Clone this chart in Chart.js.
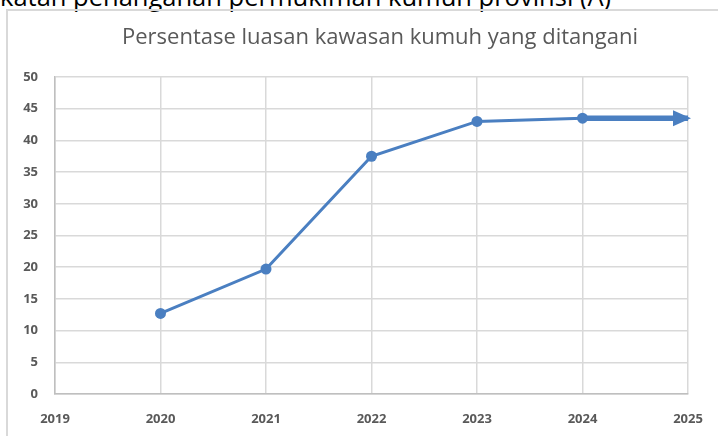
<!DOCTYPE html>
<html>
<head>
<meta charset="utf-8">
<script src="https://cdn.jsdelivr.net/npm/chart.js@4.4.1/dist/chart.umd.min.js"></script>
<style>
  html, body { margin: 0; padding: 0; background: #fff; overflow: hidden; width: 718px; height: 436px; }
  .heading {
    position: absolute; left: 0; top: -16px; white-space: nowrap;
    font-family: "Open Sans", sans-serif; font-size: 25.5px; line-height: 25px; color: #000;
  }
  .frame {
    position: absolute; left: 6px; top: 9px; width: 760px; height: 440px;
    border-left: 2px solid #d9d9d9; border-top: 2px solid #d9d9d9;
  }
  .wrap { position: absolute; left: 8px; top: 11px; width: 744px; height: 425px; }
</style>
</head>
<body>
<div class="heading">katan penanganan permukiman kumuh provinsi (A)</div>
<div class="frame"></div>
<div class="wrap"><canvas id="c"></canvas></div>
<script>
const title = 'Persentase luasan kawasan kumuh yang ditangani';
const years = [2020, 2021, 2022, 2023, 2024];
const values = [12.7, 19.7, 37.5, 43.0, 43.5];
const arrowYears = [2024, 2025];
const arrowValues = [43.5, 43.5];
const yTicks = [0, 5, 10, 15, 20, 25, 30, 35, 40, 45, 50];
const xTicks = [2019, 2020, 2021, 2022, 2023, 2024, 2025];

const blue = '#4a7fc1';
const tickFont = { family: 'Open Sans', size: 13, weight: '700' };

// arrow head at the end of the 2024 -> 2025 arrow, and the centred title
const extras = {
  id: 'extras',
  afterDatasetsDraw(chart) {
    const pts = chart.getDatasetMeta(1).data;
    const end = pts[pts.length - 1];
    const ctx = chart.ctx;
    ctx.save();
    ctx.fillStyle = blue;
    ctx.beginPath();
    ctx.moveTo(end.x + 3, end.y);
    ctx.lineTo(end.x - 15, end.y - 8);
    ctx.lineTo(end.x - 15, end.y + 8);
    ctx.closePath();
    ctx.fill();

    ctx.fillStyle = '#595959';
    ctx.font = '22px "Open Sans"';
    ctx.textAlign = 'center';
    ctx.textBaseline = 'alphabetic';
    ctx.fillText(title, chart.width / 2, 33);
    ctx.restore();
  }
};

new Chart(document.getElementById('c'), {
  type: 'line',
  data: {
    datasets: [
      {
        data: years.map((y, i) => ({ x: y, y: values[i] })),
        borderColor: blue, backgroundColor: blue,
        borderWidth: 3, pointRadius: 5.5, pointHoverRadius: 5.5,
        pointBackgroundColor: blue, pointBorderWidth: 0, tension: 0
      },
      {
        data: arrowYears.map((y, i) => ({ x: y, y: arrowValues[i] })),
        borderColor: blue, borderWidth: 5.5, pointRadius: 0,
        borderCapStyle: 'butt'
      }
    ]
  },
  options: {
    responsive: true,
    maintainAspectRatio: false,
    animation: false,
    layout: { padding: { left: 0, right: 64, top: 66, bottom: 0 } },
    plugins: {
      legend: { display: false },
      tooltip: { enabled: false },
      title: { display: false }
    },
    scales: {
      x: {
        type: 'linear', min: 2019, max: 2025,
        afterBuildTicks: s => { s.ticks = xTicks.map(v => ({ value: v })); },
        afterFit: s => { s.height = 42; },
        ticks: {
          color: '#595959', padding: 17, maxRotation: 0,
          font: tickFont,
          callback: v => String(v)
        },
        grid: { color: '#d9d9d9', lineWidth: 1.5, drawTicks: false },
        border: { color: '#bfbfbf', width: 1.5 }
      },
      y: {
        min: 0, max: 50,
        afterBuildTicks: s => { s.ticks = yTicks.map(v => ({ value: v })); },
        afterFit: s => { s.width = 47; },
        ticks: { color: '#595959', padding: 17, font: tickFont },
        grid: { color: '#d9d9d9', lineWidth: 1.5, drawTicks: false },
        border: { color: '#bfbfbf', width: 1.5 }
      }
    }
  },
  plugins: [extras]
});
</script>
</body>
</html>
